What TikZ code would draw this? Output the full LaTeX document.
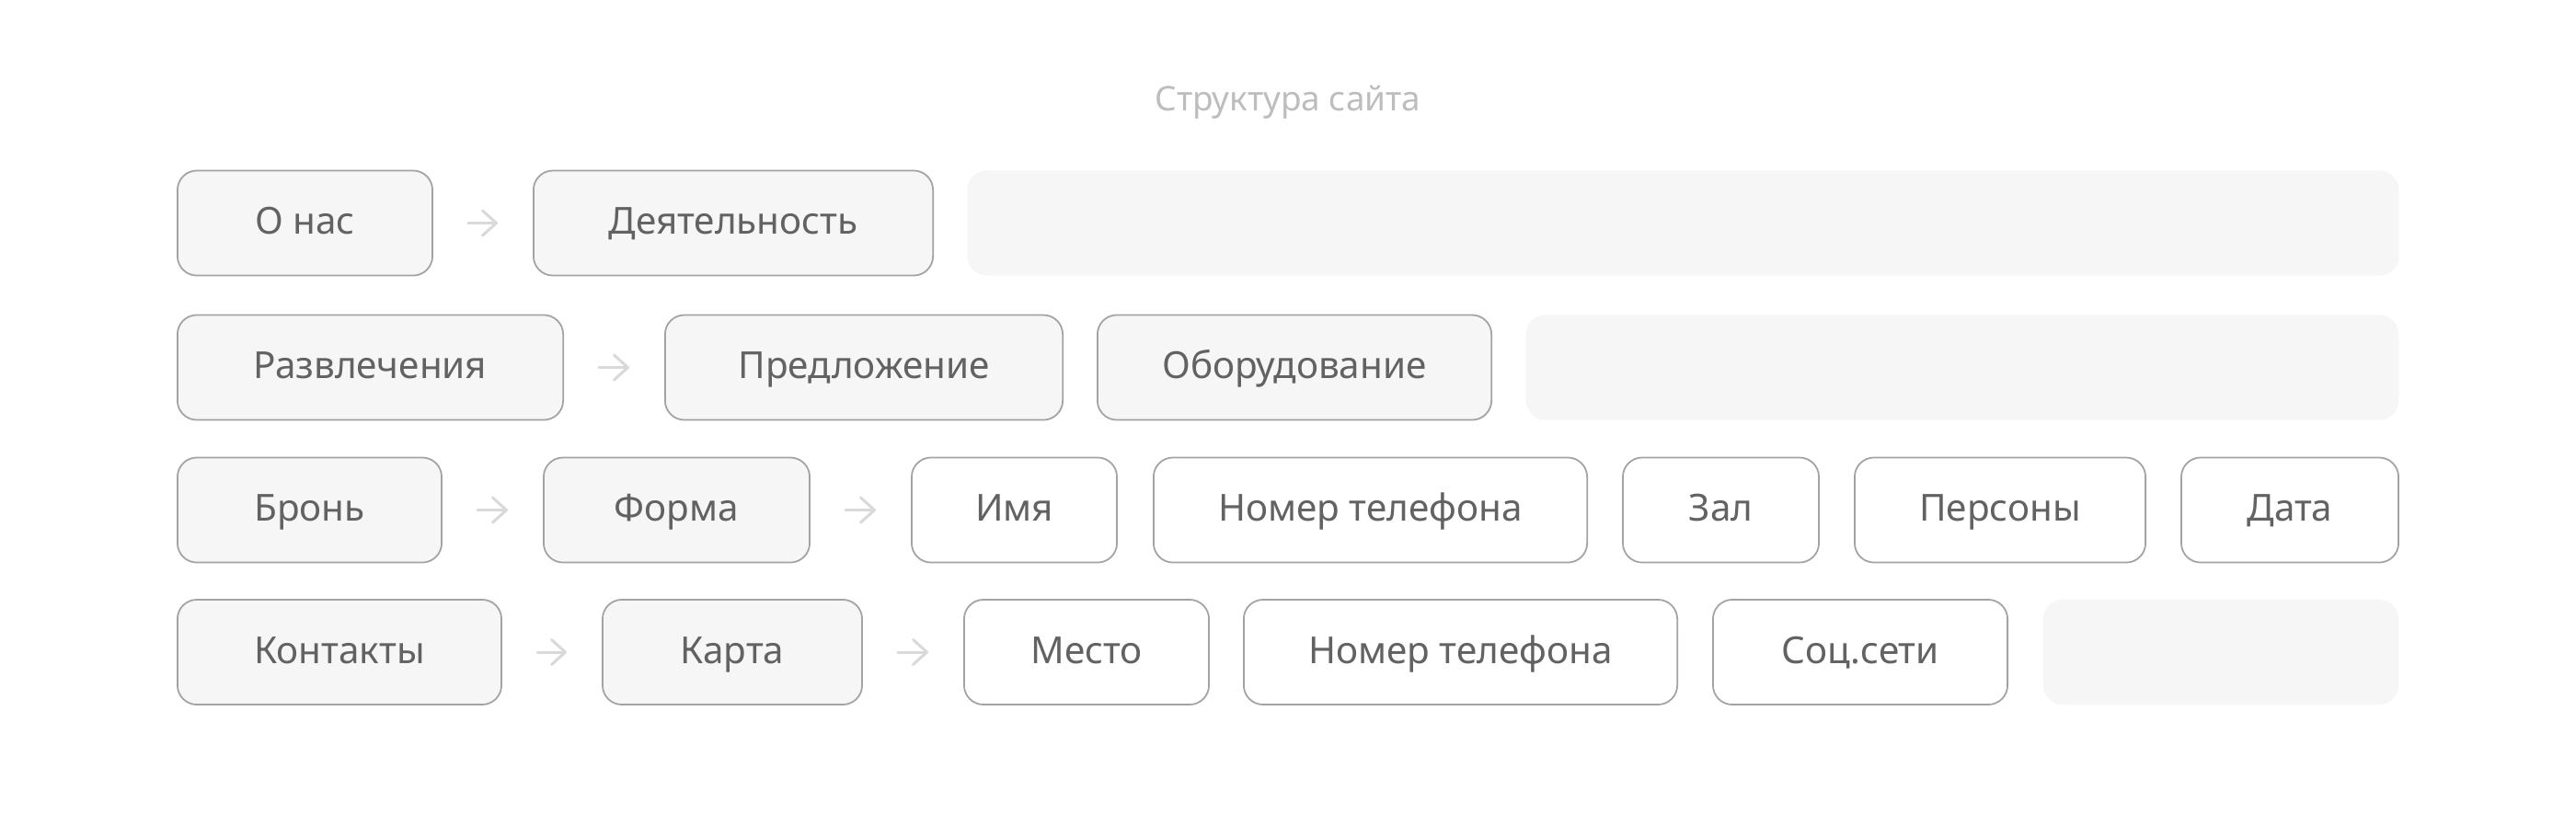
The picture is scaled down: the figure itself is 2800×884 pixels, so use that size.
\documentclass[tikz,border=0pt]{standalone}
\usepackage{fontspec}
\setmainfont{Noto Sans}
\usetikzlibrary{arrows.meta}
\definecolor{boxfill}{HTML}{F6F6F6}
\definecolor{boxline}{HTML}{A3A3A3}
\definecolor{boxtext}{HTML}{626262}
\definecolor{titletext}{HTML}{BDBDBD}
\definecolor{arrowline}{HTML}{D9D9D9}
\tikzset{
	page/.style={draw=boxline, fill=boxfill, line width=0.5pt, rounded corners=0.21cm, minimum height=1.14cm, inner sep=0pt, text=boxtext, font=\fontsize{11.5}{14}\selectfont, text height=0.29cm, text depth=0.05cm},
	field/.style={page, fill=white},
	spare/.style={fill=boxfill, rounded corners=0.21cm, minimum height=1.14cm, inner sep=0pt},
	link/.style={draw=arrowline, line width=0.85pt, line cap=round, shorten <=0.38cm, shorten >=0.38cm, -{Straight Barb[length=0.15cm,width=0.27cm,round]}},
	heading/.style={text=titletext, font=\fontsize{10.5}{13}\selectfont, inner sep=0pt, text height=0.26cm, text depth=0.03cm}
}

\begin{document}
\begin{tikzpicture}[x=0.01cm, y=-0.01cm]
			%%%%% START %%%%%
			\useasboundingbox[fill=white] (0, 0) rectangle (2800, 884);
			
			\node[heading] (title) at (1400, 109) {Структура сайта};
			
			% row 1
			\node[page, minimum width=2.77cm] (onas) at (331.5, 242.5) {О нас};
			\node[page, minimum width=4.34cm] (work) at (797, 242.5) {Деятельность};
			\node[spare, minimum width=15.55cm] (spareA) at (1829.5, 242.5) {};
			\draw[link] (onas) -- (work);
			
			% row 2
			\node[page, minimum width=4.19cm] (fun) at (402.5, 399.5) {Развлечения};
			\node[page, minimum width=4.32cm] (offer) at (939, 399.5) {Предложение};
			\node[page, minimum width=4.28cm] (gear) at (1407, 399.5) {Оборудование};
			\node[spare, minimum width=9.48cm] (spareB) at (2133, 399.5) {};
			\draw[link] (fun) -- (offer);
			
			% row 3
			\node[page, minimum width=2.87cm] (booking) at (336.5, 554.5) {Бронь};
			\node[page, minimum width=2.89cm] (form) at (735.5, 554.5) {Форма};
			\node[field, minimum width=2.23cm] (name) at (1102.5, 554.5) {Имя};
			\node[field, minimum width=4.71cm] (phoneA) at (1489.5, 554.5) {Номер телефона};
			\node[field, minimum width=2.13cm] (hall) at (1870.5, 554.5) {Зал};
			\node[field, minimum width=3.16cm] (guests) at (2174, 554.5) {Персоны};
			\node[field, minimum width=2.36cm] (date) at (2489, 554.5) {Дата};
			\draw[link] (booking) -- (form);
			\draw[link] (form) -- (name);
			
			% row 4
			\node[page, minimum width=3.52cm] (contacts) at (369, 709) {Контакты};
			\node[page, minimum width=2.82cm] (map) at (796, 709) {Карта};
			\node[field, minimum width=2.66cm] (place) at (1181, 709) {Место};
			\node[field, minimum width=4.71cm] (phoneB) at (1587.5, 709) {Номер телефона};
			\node[field, minimum width=3.20cm] (social) at (2022, 709) {Соц.сети};
			\node[spare, minimum width=3.86cm] (spareD) at (2414, 709) {};
			\draw[link] (contacts) -- (map);
			\draw[link] (map) -- (place);
			
			%%%%% END %%%%%
\end{tikzpicture}
\end{document}
